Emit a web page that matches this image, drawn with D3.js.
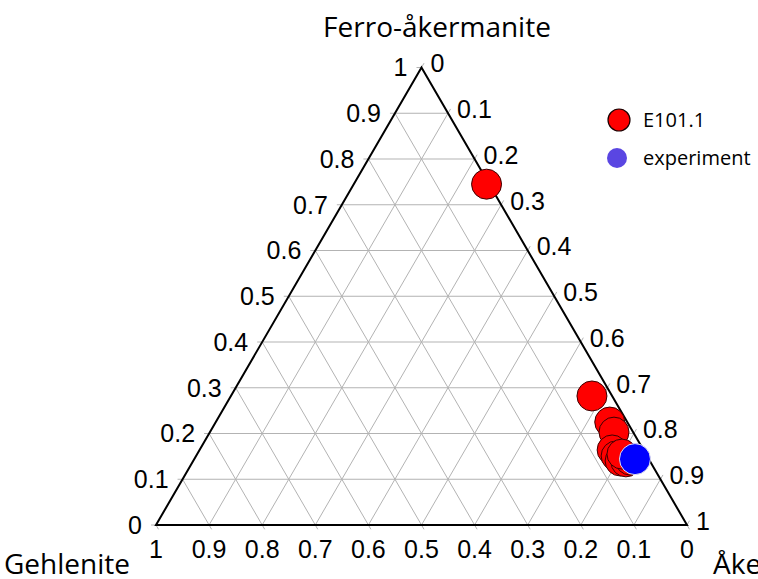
<!DOCTYPE html>
<html>
<head>
<meta charset="utf-8">
<script src="https://cdn.jsdelivr.net/npm/d3@7"></script>
<style>
  body { margin: 0; background: #fff; }
  svg { display: block; }
</style>
</head>
<body>
<div id="chart-area"></div>
<script>
// ternary values: Ferro-akermanite, Akermanite, Gehlenite
var ticks = [0, 0.1, 0.2, 0.3, 0.4, 0.5, 0.6, 0.7, 0.8, 0.9, 1];
var tickLabels = ["0", "0.1", "0.2", "0.3", "0.4", "0.5", "0.6", "0.7", "0.8", "0.9", "1"];

var e101_fe = [0.745, 0.282, 0.225, 0.203, 0.164, 0.151, 0.140, 0.138, 0.142, 0.155];
var e101_ak = [0.250, 0.680, 0.742, 0.761, 0.777, 0.791, 0.804, 0.816, 0.822, 0.800];

var exp_fe = [0.144];
var exp_ak = [0.830];

var seriesNames = ["E101.1", "experiment"];

var width = 758, height = 579;

var svg = d3.select("#chart-area").append("svg")
	.attr("width", width)
	.attr("height", height);

// x runs along the base (Ak + Fe/2), y is the Fe fraction
var x = d3.scaleLinear().domain([0, 1]).range([156, 687]);
var y = d3.scaleLinear().domain([0, 1]).range([525, 67.5]);

function pt(fe, ak) {
	return [x(ak + fe / 2), y(fe)];
}

var gridColor = "#b3b3b3";
var g = svg.append("g");

// grid lines
ticks.slice(1, -1).forEach(function(t){
	var lines = [
		[pt(t, 0), pt(t, 1 - t)],          // const Fe
		[pt(0, t), pt(1 - t, t)],          // const Ak
		[pt(1 - t, 0), pt(0, 1 - t)]       // const Gh
	];
	lines.forEach(function(l){
		g.append("line")
			.attr("x1", l[0][0]).attr("y1", l[0][1])
			.attr("x2", l[1][0]).attr("y2", l[1][1])
			.attr("stroke", gridColor).attr("stroke-width", 1);
	});
});

// small ticks outside each edge
var tl = 5;
var sx = x(0.5) - x(0), sy = y(0) - y(1);
var len = Math.sqrt(sx * sx + sy * sy);
ticks.forEach(function(t){
	var a = pt(t, 0);
	g.append("line").attr("x1", a[0]).attr("y1", a[1]).attr("x2", a[0] - tl).attr("y2", a[1])
		.attr("stroke", gridColor);
	var b = pt(1 - t, t);
	g.append("line").attr("x1", b[0]).attr("y1", b[1])
		.attr("x2", b[0] + tl * sx / len).attr("y2", b[1] - tl * sy / len)
		.attr("stroke", gridColor);
	var c = pt(0, 1 - t);
	g.append("line").attr("x1", c[0]).attr("y1", c[1])
		.attr("x2", c[0] + tl * sx / len).attr("y2", c[1] + tl * sy / len)
		.attr("stroke", gridColor);
});

// triangle outline
var corners = [pt(1, 0), pt(0, 0), pt(0, 1)];
g.append("path")
	.attr("d", d3.line()(corners) + "Z")
	.attr("fill", "none")
	.attr("stroke", "#000")
	.attr("stroke-width", 2);

// tick labels
var tickFont = "'Liberation Sans', Arial, sans-serif";
ticks.forEach(function(t, i){
	var a = pt(t, 0);
	svg.append("text").text(tickLabels[i])
		.attr("x", a[0] - 14).attr("y", a[1]).attr("dy", "0.35em")
		.attr("text-anchor", "end")
		.style("font-family", tickFont).style("font-size", "25px");
	var b = pt(1 - t, t);
	svg.append("text").text(tickLabels[i])
		.attr("x", b[0] + 9).attr("y", b[1] - 4).attr("dy", "0.35em")
		.style("font-family", tickFont).style("font-size", "25px");
	var c = pt(0, 1 - t);
	svg.append("text").text(tickLabels[i])
		.attr("x", c[0]).attr("y", c[1] + 33)
		.attr("text-anchor", "middle")
		.style("font-family", tickFont).style("font-size", "25px");
});

// corner titles
var titleFont = "'Open Sans', sans-serif";
svg.append("text").text("Ferro-åkermanite")
	.attr("x", 437).attr("y", 37).attr("text-anchor", "middle")
	.style("font-family", titleFont).style("font-size", "28px");
svg.append("text").text("Gehlenite")
	.attr("x", 4).attr("y", 574)
	.style("font-family", titleFont).style("font-size", "28px");
svg.append("text").text("Åkermanite")
	.attr("x", 713).attr("y", 574)
	.style("font-family", titleFont).style("font-size", "28px");

// data points
var reds = e101_fe.map(function(d, i){ return pt(d, e101_ak[i]); });
svg.selectAll("circle.e101").data(reds).enter()
	.append("circle").attr("class", "e101")
	.attr("cx", function(d){ return d[0]; })
	.attr("cy", function(d){ return d[1]; })
	.attr("r", 15)
	.attr("fill", "#ff0000")
	.attr("stroke", "#3a0000")
	.attr("stroke-width", 1);

var blues = exp_fe.map(function(d, i){ return pt(d, exp_ak[i]); });
svg.selectAll("circle.exp").data(blues).enter()
	.append("circle").attr("class", "exp")
	.attr("cx", function(d){ return d[0]; })
	.attr("cy", function(d){ return d[1]; })
	.attr("r", 15.5)
	.attr("fill", "#0000ff")
	.attr("stroke", "#dde")
	.attr("stroke-width", 1);

// legend
var legend = svg.append("g");
legend.append("circle").attr("cx", 619).attr("cy", 120).attr("r", 11)
	.attr("fill", "#ff0000").attr("stroke", "#1a0000").attr("stroke-width", 1.2);
legend.append("circle").attr("cx", 617).attr("cy", 158).attr("r", 10)
	.attr("fill", "#5a46e2");
legend.selectAll("text").data(seriesNames).enter()
	.append("text").text(function(d){ return d; })
	.attr("x", 643)
	.attr("y", function(d, i){ return 120 + i * 38; })
	.attr("dy", "0.35em")
	.style("font-family", titleFont).style("font-size", "20px");
</script>
</body>
</html>
